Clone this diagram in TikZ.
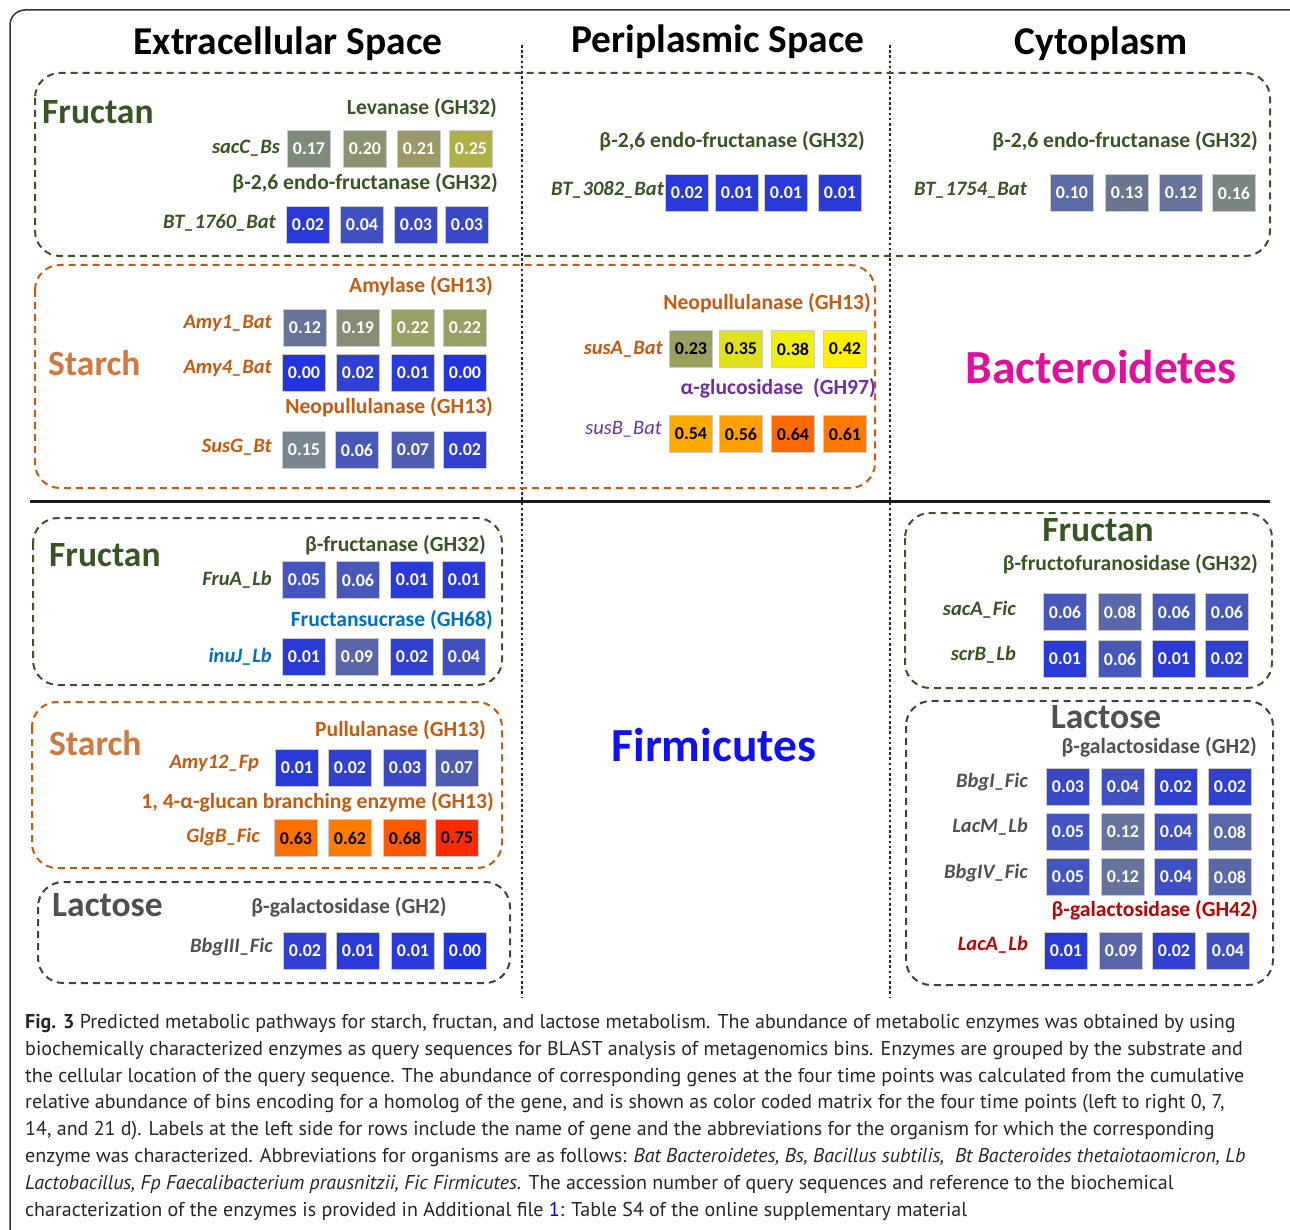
\documentclass[tikz,border=0pt]{standalone}
\usepackage{fontspec}
\setmainfont{Carlito}
\newfontfamily\capfont{PT Sans}
\definecolor{fgreen}{HTML}{375623}
\definecolor{forange}{HTML}{C55A11}
\definecolor{starchc}{HTML}{D0783E}
\definecolor{fpurple}{HTML}{7030A0}
\definecolor{fblue}{HTML}{0070C0}
\definecolor{fgray}{HTML}{505050}
\definecolor{fred}{HTML}{C00000}
\definecolor{bactc}{HTML}{DD119C}
\definecolor{firmc}{HTML}{1010F0}
\definecolor{c00}{HTML}{2233E0}
\definecolor{c01}{HTML}{2A3AD8}
\definecolor{c02}{HTML}{3040D0}
\definecolor{c03}{HTML}{3A48C8}
\definecolor{c04}{HTML}{4050C2}
\definecolor{c05}{HTML}{4555C0}
\definecolor{c06}{HTML}{4858B8}
\definecolor{c07}{HTML}{4F5DB0}
\definecolor{c08}{HTML}{5A68AA}
\definecolor{c09}{HTML}{5B66A8}
\definecolor{c10}{HTML}{5E6AA4}
\definecolor{c12}{HTML}{66739A}
\definecolor{c13}{HTML}{6A7590}
\definecolor{c15}{HTML}{7A8590}
\definecolor{c16}{HTML}{7A8480}
\definecolor{c17}{HTML}{7F8A7C}
\definecolor{c19}{HTML}{878D72}
\definecolor{c20}{HTML}{8B9470}
\definecolor{c21}{HTML}{999A68}
\definecolor{c22}{HTML}{9AA063}
\definecolor{c23}{HTML}{9AA060}
\definecolor{c25}{HTML}{B0B048}
\definecolor{c35}{HTML}{E0E020}
\definecolor{c38}{HTML}{EEEE10}
\definecolor{c42}{HTML}{FFF000}
\definecolor{c54}{HTML}{FFAA00}
\definecolor{c56}{HTML}{FFA000}
\definecolor{c61}{HTML}{FF7A00}
\definecolor{c62}{HTML}{FF7C00}
\definecolor{c63}{HTML}{FF7000}
\definecolor{c64}{HTML}{FF6A00}
\definecolor{c68}{HTML}{FF5A00}
\definecolor{c75}{HTML}{FF2A00}
\newcommand\mkrow[3]{\foreach \cx/\cc/\cv/\ct [count=\ci] in {#3} {\node[cellbox, fill=\cc, text=\ct] (#1-\ci) at (\cx,#2) {\cv};}}
\begin{document}
\begin{tikzpicture}[x=1pt,y=-1pt,
  title/.style={font=\fontsize{39.5}{44}\selectfont\bfseries, text=black, inner sep=0},
  grp/.style={font=\fontsize{35.5}{40}\selectfont\bfseries, inner sep=0},
  enz/.style={font=\fontsize{21.6}{24}\selectfont\bfseries, inner sep=0, anchor=east},
  gene/.style={font=\fontsize{20.5}{24}\selectfont\bfseries\itshape, inner sep=0, anchor=east},
  phy/.style={font=\fontsize{47.5}{52}\selectfont\bfseries, inner sep=0},
  cellbox/.style={draw=white!80!black, line width=0.8pt, minimum width=43pt, minimum height=37pt, inner sep=0, font=\fontsize{18}{20}\selectfont\bfseries},
  dbox/.style={dash pattern=on 7pt off 5pt, line width=2pt, rounded corners=25pt},
  sepline/.style={line width=2.6pt, dash pattern=on 2.6pt off 2.6pt, black!85}
]
\useasboundingbox (0,0) rectangle (1290,1230);
\clip (0,0) rectangle (1290,1230);
\fill[white] (0,0) rectangle (1290,1230);
\draw[line width=1.5pt, black!80, rounded corners=15pt] (10,10) rectangle (1305,1250);

% titles
\node[title] (t1) at (288,44) {Extracellular Space};
\node[title] (t2) at (718,42) {Periplasmic Space};
\node[title] (t3) at (1101,44) {Cytoplasm};

% separators
\draw[sepline] (522,45) -- (522,997);
\draw[sepline] (890,45) -- (890,997);
\draw[line width=3pt, black!90] (30,501) -- (1270,501);

% boxes
\draw[dbox, fgreen] (35,73) rectangle (1270,256);
\draw[dbox, forange] (35,265) rectangle (875,488);
\draw[dbox, fgreen] (33,518) rectangle (502,685);
\draw[dbox, forange] (32,702) rectangle (502,868);
\draw[dbox, black!75] (38,882) rectangle (510,983);
\draw[dbox, fgreen] (905,513) rectangle (1272,688);
\draw[dbox, black!75] (906,701) rectangle (1273,985);

% ===== Bacteroidetes: Fructan
\node[grp, text=fgreen, anchor=west] (fr1) at (42,112) {Fructan};
\node[enz, text=fgreen] (lev) at (497,108) {Levanase (GH32)};
\node[gene, text=fgreen] (sacC) at (280,148) {sacC\_Bs};
\mkrow{sacCr}{149}{309/c17/0.17/white, 365/c20/0.20/white, 419/c21/0.21/white, 471/c25/0.25/white}
\node[enz, text=fgreen] (endo1) at (498,183) {β-2,6 endo-fructanase (GH32)};
\node[gene, text=fgreen] (bt1760) at (276,223) {BT\_1760\_Bat};
\mkrow{bt1760r}{225}{308/c01/0.02/white, 362/c04/0.04/white, 416/c03/0.03/white, 467/c03/0.03/white}

\node[enz, text=fgreen] (endo2) at (865,141) {β-2,6 endo-fructanase (GH32)};
\node[gene, text=fgreen] (bt3082) at (664,190) {BT\_3082\_Bat};
\mkrow{bt3082r}{193}{687/c01/0.02/white, 737/c01/0.01/white, 786/c01/0.01/white, 840/c01/0.01/white}

\node[enz, text=fgreen] (endo3) at (1258,141) {β-2,6 endo-fructanase (GH32)};
\node[gene, text=fgreen] (bt1754) at (1027,190) {BT\_1754\_Bat};
\mkrow{bt1754r}{193}{1072/c10/0.10/white, 1127/c13/0.13/white, 1181/c12/0.12/white, 1234/c16/0.16/white}

% ===== Bacteroidetes: Starch
\node[grp, text=starchc, anchor=west] (st1) at (48,363) {Starch};
\node[enz, text=forange] (amyl) at (493,286) {Amylase (GH13)};
\node[gene, text=forange] (amy1) at (272,323) {Amy1\_Bat};
\mkrow{amy1r}{328}{305/c12/0.12/white, 358/c19/0.19/white, 413/c22/0.22/white, 465/c22/0.22/white}
\node[gene, text=forange] (amy4) at (272,368) {Amy4\_Bat};
\mkrow{amy4r}{373}{304/c00/0.00/white, 358/c02/0.02/white, 413/c01/0.01/white, 465/c00/0.00/white}
\node[enz, text=forange] (neo1) at (493,407) {Neopullulanase (GH13)};
\node[gene, text=forange] (susG) at (272,447) {SusG\_Bt};
\mkrow{susGr}{450}{304/c15/0.15/white, 357/c06/0.06/white, 413/c07/0.07/white, 465/c02/0.02/white}

\node[enz, text=forange] (neo2) at (871,303) {Neopullulanase (GH13)};
\node[gene, text=forange] (susA) at (663,349) {susA\_Bat};
\mkrow{susAr}{349}{691/c23/0.23/black, 741/c35/0.35/black, 793/c38/0.38/black, 845/c42/0.42/black}
\node[enz, text=fpurple] (aglu) at (876,388) {α-glucosidase~~(GH97)};
\node[gene, text=fpurple, font=\fontsize{20.5}{24}\selectfont\itshape] (susB) at (662,429) {susB\_Bat};
\mkrow{susBr}{434}{691/c54/0.54/black, 741/c56/0.56/black, 793/c64/0.64/black, 845/c61/0.61/black}

\node[phy, text=bactc] (bact) at (1101,367) {Bacteroidetes};
\node[phy, text=firmc] (firm) at (714,745) {Firmicutes};

% ===== Firmicutes: Fructan (extracellular)
\node[grp, text=fgreen, anchor=west] (fr2) at (49,555) {Fructan};
\node[enz, text=fgreen] (bfru) at (486,545) {β-fructanase (GH32)};
\node[gene, text=fgreen] (fruA) at (272,580) {FruA\_Lb};
\mkrow{fruAr}{580}{304/c05/0.05/white, 358/c06/0.06/white, 412/c01/0.01/white, 464/c01/0.01/white}
\node[enz, text=fblue] (fsuc) at (493,620) {Fructansucrase (GH68)};
\node[gene, text=fblue] (inuJ) at (272,657) {inuJ\_Lb};
\mkrow{inuJr}{657}{304/c01/0.01/white, 357/c09/0.09/white, 412/c02/0.02/white, 464/c04/0.04/white}

% Starch
\node[grp, text=starchc, anchor=west] (st2) at (49,743) {Starch};
\node[enz, text=forange] (pull) at (486,730) {Pullulanase (GH13)};
\node[gene, text=forange] (amy12) at (259,763) {Amy12\_Fp};
\mkrow{amy12r}{768}{297/c01/0.01/white, 350/c02/0.02/white, 405/c03/0.03/white, 457/c07/0.07/white}
\node[enz, text=forange] (glgbe) at (494,802) {1, 4-α-glucan branching enzyme (GH13)};
\node[gene, text=forange] (glgB) at (260,837) {GlgB\_Fic};
\mkrow{glgBr}{838}{296/c63/0.63/black, 350/c62/0.62/black, 405/c68/0.68/black, 457/c75/0.75/black}

% Lactose
\node[grp, text=fgray, anchor=west] (lac1) at (52,905) {Lactose};
\node[enz, text=fgray, anchor=center] (bgal1) at (349,907) {β-galactosidase (GH2)};
\node[gene, text=fgray] (bbg3) at (273,947) {BbgIII\_Fic};
\mkrow{bbg3r}{951}{305/c02/0.02/white, 358/c01/0.01/white, 413/c01/0.01/white, 465/c00/0.00/white}

% Cytoplasm Fructan
\node[grp, text=fgreen] (fr3) at (1098,530) {Fructan};
\node[enz, text=fgreen] (bff) at (1258,564) {β-fructofuranosidase (GH32)};
\node[gene, text=fgreen] (sacA) at (1016,610) {sacA\_Fic};
\mkrow{sacAr}{612}{1065/c06/0.06/white, 1120/c08/0.08/white, 1174/c06/0.06/white, 1227/c06/0.06/white}
\node[gene, text=fgreen] (scrB) at (1016,655) {scrB\_Lb};
\mkrow{scrBr}{659}{1065/c01/0.01/white, 1120/c06/0.06/white, 1174/c01/0.01/white, 1227/c02/0.02/white}

% Cytoplasm Lactose
\node[grp, text=fgray] (lac2) at (1106,717) {Lactose};
\node[enz, text=fgray] (bgal2) at (1257,747) {β-galactosidase (GH2)};
\node[gene, text=fgray] (bbg1) at (1028,782) {BbgI\_Fic};
\mkrow{bbg1r}{787}{1068/c03/0.03/white, 1123/c04/0.04/white, 1176/c02/0.02/white, 1230/c02/0.02/white}
\node[gene, text=fgray] (lacM) at (1028,827) {LacM\_Lb};
\mkrow{lacMr}{832}{1068/c05/0.05/white, 1123/c12/0.12/white, 1176/c04/0.04/white, 1230/c08/0.08/white}
\node[gene, text=fgray] (bbg4) at (1028,873) {BbgIV\_Fic};
\mkrow{bbg4r}{877}{1068/c05/0.05/white, 1123/c12/0.12/white, 1176/c04/0.04/white, 1230/c08/0.08/white}
\node[enz, text=fred] (bgal3) at (1258,910) {β-galactosidase (GH42)};
\node[gene, text=fred] (lacA) at (1028,945) {LacA\_Lb};
\mkrow{lacAr}{951}{1066/c01/0.01/white, 1121/c09/0.09/white, 1174/c02/0.02/white, 1228/c04/0.04/white}

% caption
\node[anchor=north west, inner sep=0, align=left, text=black!85,
  font=\capfont\fontsize{20}{26.8}\selectfont] (caption) at (25,1014)
{\textbf{Fig. 3} Predicted metabolic pathways for starch, fructan, and lactose metabolism. The abundance of metabolic enzymes was obtained by using\\
biochemically characterized enzymes as query sequences for BLAST analysis of metagenomics bins. Enzymes are grouped by the substrate and\\
the cellular location of the query sequence. The abundance of corresponding genes at the four time points was calculated from the cumulative\\
relative abundance of bins encoding for a homolog of the gene, and is shown as color coded matrix for the four time points (left to right 0, 7,\\
14, and 21 d). Labels at the left side for rows include the name of gene and the abbreviations for the organism for which the corresponding\\
enzyme was characterized. Abbreviations for organisms are as follows: \textit{Bat Bacteroidetes, Bs, Bacillus subtilis,\ \ Bt Bacteroides thetaiotaomicron, Lb}\\
\textit{Lactobacillus, Fp Faecalibacterium prausnitzii, Fic Firmicutes.} The accession number of query sequences and reference to the biochemical\\
characterization of the enzymes is provided in Additional file {\color{blue}1}: Table S4 of the online supplementary material};
\end{tikzpicture}
\end{document}
